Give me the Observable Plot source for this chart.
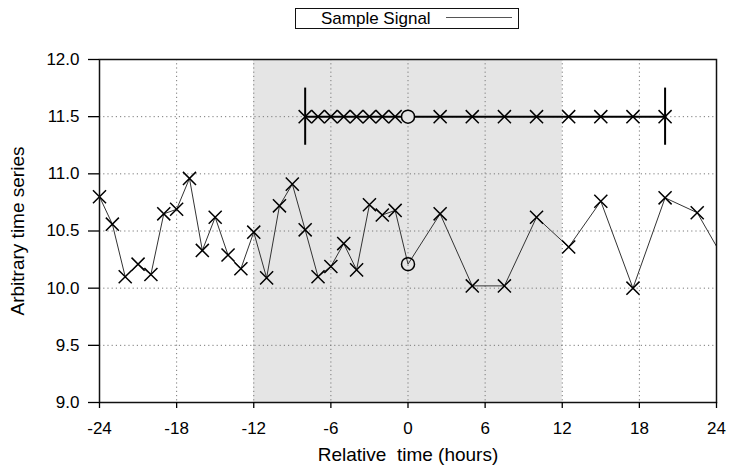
<!DOCTYPE html>
<html>
<head>
<meta charset="utf-8">
<script src="https://cdn.jsdelivr.net/npm/d3@7"></script>
<script src="https://cdn.jsdelivr.net/npm/@observablehq/plot@0.6"></script>
<style>
  body { margin: 0; background: #fff; font-family: "Liberation Sans", Arial, sans-serif; }
  #legend { position: relative; height: 35px; width: 730px; }
  #legend .box {
    position: absolute; left: 295px; top: 8px; width: 224px; height: 21px;
    border: 1.5px solid #111; box-sizing: border-box; display: flex; align-items: center;
    font-size: 17px; color: #000; background: #fff;
  }
  #legend .label { margin-left: 25px; line-height: 1; }
  #legend .swatch { margin-left: 15px; width: 66px; height: 1px; background: #555; margin-top: -2px; }
</style>
</head>
<body>
<div id="legend"><div class="box"><span class="label" id="legend-label"></span><span class="swatch"></span></div></div>
<div id="chart"></div>
<script>
// ---- data ----
const seriesName = "Sample Signal";
const times = [-24, -23, -22, -21, -20, -19, -18, -17, -16, -15, -14, -13,
               -12, -11, -10, -9, -8, -7, -6, -5, -4, -3, -2, -1,
               0, 2.5, 5, 7.5, 10, 12.5, 15, 17.5, 20, 22.5, 25];
const values = [10.80, 10.56, 10.10, 10.21, 10.12, 10.65, 10.69, 10.96, 10.33, 10.62, 10.29, 10.17,
                10.49, 10.09, 10.72, 10.91, 10.51, 10.10, 10.19, 10.39, 10.16, 10.73, 10.64, 10.68,
                10.21, 10.65, 10.02, 10.02, 10.62, 10.36, 10.76, 10.00, 10.79, 10.66, 10.17];
const referenceTime = 0;            // sample drawn as a circle
const shadedWindow = [{start: -12, end: 12}];
const sampleWindow = {start: -8, end: 20, level: 11.5, low: 11.25, high: 11.75};
const xTicks = [-24, -18, -12, -6, 0, 6, 12, 18, 24];
const yTicks = [9.0, 9.5, 10.0, 10.5, 11.0, 11.5, 12.0];
const xLabel = "Relative\u00a0 time (hours)";
const yLabel = "Arbitrary time series";

document.getElementById("legend-label").textContent = seriesName;

// ---- derived tables ----
const xMin = xTicks[0], xMax = xTicks[xTicks.length - 1];
const points = times.map((t, i) => ({t, v: values[i]}));
const visible = points.filter(d => d.t >= xMin && d.t <= xMax);
const crosses = visible.filter(d => d.t !== referenceTime);
const circles = visible.filter(d => d.t === referenceTime);
const rowPts = times.filter(t => t >= sampleWindow.start && t <= sampleWindow.end)
                    .map(t => ({t, v: sampleWindow.level}));
const rowCrosses = rowPts.filter(d => d.t !== referenceTime);
const rowCircles = rowPts.filter(d => d.t === referenceTime);
const rowSpan = [{x1: sampleWindow.start, x2: sampleWindow.end, y: sampleWindow.level}];
const brackets = [sampleWindow.start, sampleWindow.end].map(x => ({x, y1: sampleWindow.low, y2: sampleWindow.high}));

const gridStyle = {stroke: "#7a7a7a", strokeOpacity: 1, strokeWidth: 1, strokeDasharray: "1.2,3"};

const chart = Plot.plot({
  width: 730,
  height: 430,
  marginLeft: 99,
  marginRight: 14,
  marginTop: 24,
  marginBottom: 63,
  style: {fontFamily: "'Liberation Sans', Arial, sans-serif", fontSize: "17px", color: "#000", background: "#fff"},
  x: {domain: [xMin, xMax]},
  y: {domain: [yTicks[0], yTicks[yTicks.length - 1]]},
  marks: [
    Plot.rect(shadedWindow, {x1: "start", x2: "end", fill: "#e5e5e5"}),
    Plot.gridX(xTicks.slice(1, -1), gridStyle),
    Plot.gridY(yTicks.slice(1, -1), gridStyle),
    Plot.line(points, {x: "t", y: "v", stroke: "#333", strokeWidth: 1, clip: true}),
    Plot.ruleY(rowSpan, {x1: "x1", x2: "x2", y: "y", stroke: "#000", strokeWidth: 2}),
    Plot.ruleX(brackets, {x: "x", y1: "y1", y2: "y2", stroke: "#000", strokeWidth: 2}),
    Plot.dot(crosses, {x: "t", y: "v", symbol: "times", r: 6, stroke: "#000", strokeWidth: 1.5}),
    Plot.dot(circles, {x: "t", y: "v", symbol: "circle", r: 6.5, stroke: "#000", fill: "none", strokeWidth: 1.5}),
    Plot.dot(rowCrosses, {x: "t", y: "v", symbol: "times", r: 6, stroke: "#000", strokeWidth: 1.5}),
    Plot.dot(rowCircles, {x: "t", y: "v", symbol: "circle", r: 6.5, stroke: "#000", fill: "#e5e5e5", strokeWidth: 1.5}),
    Plot.frame({stroke: "#111", strokeWidth: 1.5}),
    Plot.axisX(xTicks, {tickSize: 6, tickPadding: 13, tickFormat: d => String(d), strokeWidth: 1.3, fontSize: 17, label: null}),
    Plot.axisY(yTicks, {tickSize: 11, tickPadding: 9, tickFormat: d => d.toFixed(1), strokeWidth: 1.3, fontSize: 17, label: null}),
    Plot.text([xLabel], {frameAnchor: "bottom", dy: 52, textAnchor: "middle", lineAnchor: "middle", fontSize: 19, fill: "#000"}),
    Plot.text([yLabel], {frameAnchor: "left", dx: -82, rotate: -90, textAnchor: "middle", lineAnchor: "middle", fontSize: 19, fill: "#000"})
  ]
});
document.getElementById("chart").appendChild(chart);
</script>
</body>
</html>
